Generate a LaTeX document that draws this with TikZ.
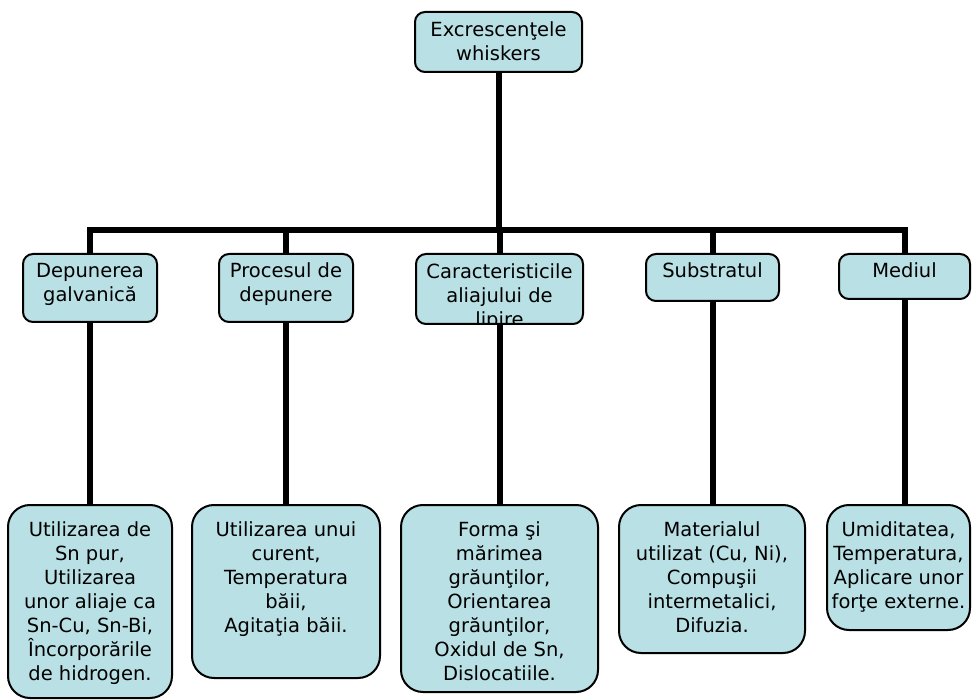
\documentclass[tikz,border=0pt]{standalone}
\usepackage{fontspec}
\setmainfont{DejaVu Sans}
\definecolor{boxfill}{RGB}{185,224,228}
\newcommand{\celltext}[4]{\parbox[c][#2pt][t]{#1pt}{\centering\rule{0pt}{#3pt}#4}}

\begin{document}
\begin{tikzpicture}[x=1pt, y=-1pt,
	  cell/.style={draw, line width=2pt, fill=boxfill, rounded corners=10pt, inner sep=0pt, font=\fontsize{19.5}{24}\selectfont},
	  leaf/.style={cell, rounded corners=22pt},
	  link/.style={line width=6pt}]
	  \useasboundingbox (0,0) rectangle (972,700);

	  \node[cell] (0) at (498.5,42) {\celltext{167}{60}{25}{Excrescenţele\\whiskers}};

	  \node[cell] (1) at (90,288) {\celltext{134}{68}{24}{Depunerea\\galvanică}};
	  \node[cell] (2) at (286,288) {\celltext{134}{68}{24}{Procesul de\\depunere}};
	  \node[cell, path picture={\node[draw=none, fill=none, inner sep=0pt, anchor=north, font=\fontsize{19.5}{24}\selectfont]
	      at (path picture bounding box.north) {\celltext{167}{100}{24}{Caracteristicile\\aliajului de\\lipire}};}]
	    (3) at (499.5,289) {\celltext{167}{70}{0}{}};
	  \node[cell] (4) at (712.5,277.5) {\celltext{133}{47}{24}{Substratul}};
	  \node[cell] (5) at (904.5,276.5) {\celltext{131}{45}{24}{Mediul}};

	  \node[leaf] (6) at (90,601.5) {\celltext{164}{193}{31}{Utilizarea de\\Sn pur,\\Utilizarea\\unor aliaje ca\\Sn-Cu, Sn-Bi,\\Încorporările\\de hidrogen.}};
	  \node[leaf] (7) at (286,591.5) {\celltext{188}{173}{31}{Utilizarea unui\\curent,\\Temperatura\\băii,\\Agitaţia băii.}};
	  \node[leaf] (8) at (499.5,598.5) {\celltext{197}{187}{31}{Forma şi\\mărimea\\grăunţilor,\\Orientarea\\grăunţilor,\\Oxidul de Sn,\\Dislocatiile.}};
	  \node[leaf] (9) at (712,579) {\celltext{186}{148}{31}{Materialul\\utilizat (Cu, Ni),\\Compuşii\\intermetalici,\\Difuzia.}};
	  \node[leaf] (10) at (898.5,567.5) {\celltext{143}{125}{31}{Umiditatea,\\Temperatura,\\Aplicare unor\\forţe externe.}};

	  \coordinate (bar) at (498.5,230);
	  \draw[link] (0) -- (bar);
	  \draw[link] (1.north) |- (bar) -| (5.north);
	  \draw[link] (2.north) -- (2.north |- bar);
	  \draw[link] (3.north) -- (3.north |- bar);
	  \draw[link] (4.north) -- (4.north |- bar);

	  \draw[link] (1.south) -- (1.south |- 6.north);
	  \draw[link] (2.south) -- (2.south |- 7.north);
	  \draw[link] (3.south) -- (3.south |- 8.north);
	  \draw[link] (4.south) -- (4.south |- 9.north);
	  \draw[link] (5.south) -- (5.south |- 10.north);
	\end{tikzpicture}
\end{document}
